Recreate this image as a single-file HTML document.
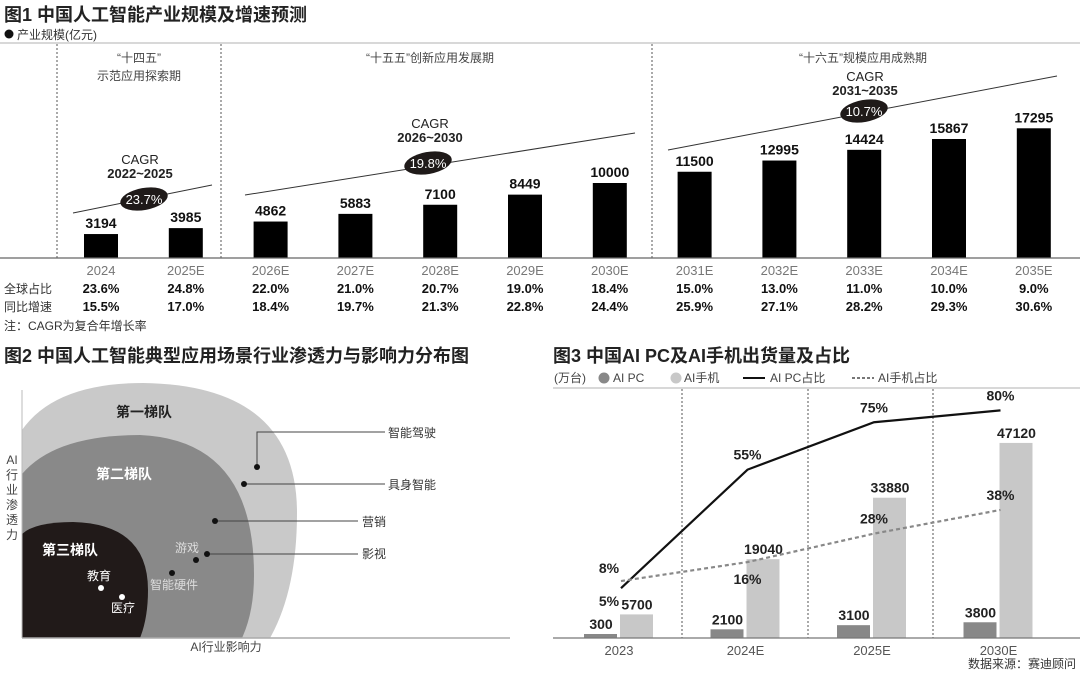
<!DOCTYPE html>
<html><head><meta charset="utf-8"><style>
html,body{margin:0;padding:0;background:#fff;}
svg{display:block;font-family:"Liberation Sans","Noto Sans CJK SC",sans-serif;}
</style></head><body>
<svg id="root" width="1080" height="678" viewBox="0 0 1080 678">
<!-- Figure 1 -->
<text x="4" y="21" font-size="18" font-weight="bold" fill="#222">图1 中国人工智能产业规模及增速预测</text>
<circle cx="9" cy="34" r="4.5" fill="#111"/>
<text x="17" y="39" font-size="12" fill="#333">产业规模(亿元)</text>
<line x1="0" y1="43" x2="1080" y2="43" stroke="#ccc" stroke-width="1.5"/>
<g stroke="#555" stroke-dasharray="2,2">
<line x1="57" y1="44" x2="57" y2="258"/><line x1="221" y1="44" x2="221" y2="258"/><line x1="652" y1="44" x2="652" y2="258"/>
</g>
<g id="f1bars"></g>
<line x1="0" y1="258" x2="1080" y2="258" stroke="#666" stroke-width="1.2"/>
<g font-size="12" fill="#444" text-anchor="middle">
<text x="139" y="62">“十四五”</text><text x="139" y="80">示范应用探索期</text>
<text x="430" y="62">“十五五”创新应用发展期</text>
<text x="863" y="62">“十六五”规模应用成熟期</text>
</g>
<g>
<line x1="73" y1="213" x2="212" y2="185" stroke="#333"/>
<line x1="245" y1="195" x2="635" y2="133" stroke="#333"/>
<line x1="668" y1="150" x2="1057" y2="76" stroke="#333"/>
<g text-anchor="middle" font-size="13" fill="#222">
<text x="140" y="164">CAGR</text><text x="140" y="178" font-weight="bold">2022~2025</text>
<text x="430" y="128">CAGR</text><text x="430" y="142" font-weight="bold">2026~2030</text>
<text x="865" y="81">CAGR</text><text x="865" y="95" font-weight="bold">2031~2035</text>
</g>
<ellipse cx="144" cy="199" rx="24" ry="11" fill="#1f1a19" transform="rotate(-10 144 199)"/>
<ellipse cx="428" cy="163" rx="24" ry="11" fill="#1f1a19" transform="rotate(-10 428 163)"/>
<ellipse cx="864" cy="111" rx="24" ry="11" fill="#1f1a19" transform="rotate(-10 864 111)"/>
<g text-anchor="middle" font-size="13" fill="#fff">
<text x="144" y="204">23.7%</text><text x="428" y="168">19.8%</text><text x="864" y="116">10.7%</text>
</g>
</g>
<g font-size="12" fill="#333">
<text x="4" y="293">全球占比</text><text x="4" y="311">同比增速</text>
<text x="4" y="330">注：CAGR为复合年增长率</text>
</g>
<g id="f1table"></g>

<!-- Figure 2 -->
<text x="4" y="362" font-size="18" font-weight="bold" fill="#222">图2 中国人工智能典型应用场景行业渗透力与影响力分布图</text>
<path d="M22,638 L22,430 Q55,383 143,383 Q297,385 297,513 Q297,590 270,638 Z" fill="#c9c9c9"/>
<path d="M22,638 L22,474 Q55,435 140,435 Q254,440 254,575 Q254,612 242,638 Z" fill="#898989"/>
<path d="M22,638 L22,534 Q35,522 73,522 Q148,524 148,590 Q148,618 140,638 Z" fill="#211a19"/>
<line x1="22" y1="390" x2="22" y2="638" stroke="#bbb"/>
<line x1="22" y1="638" x2="510" y2="638" stroke="#aaa" stroke-width="1.5"/>
<g font-size="14" font-weight="bold">
<text x="116" y="417" fill="#222">第一梯队</text>
<text x="96" y="479" fill="#fff">第二梯队</text>
<text x="42" y="555" fill="#fff">第三梯队</text>
</g>
<g stroke="#444" fill="none">
<polyline points="257,467 257,432 385,432"/>
<line x1="244" y1="484" x2="385" y2="484"/>
<line x1="215" y1="521" x2="358" y2="521"/>
<line x1="207" y1="554" x2="358" y2="554"/>
</g>
<g fill="#111">
<circle cx="257" cy="467" r="3"/><circle cx="244" cy="484" r="3"/><circle cx="215" cy="521" r="3"/>
<circle cx="207" cy="554" r="3"/><circle cx="196" cy="560" r="3"/><circle cx="172" cy="573" r="3"/>
<circle cx="101" cy="588" r="3" fill="#fff"/><circle cx="122" cy="597" r="3" fill="#fff"/>
</g>
<g font-size="12" fill="#333">
<text x="388" y="437">智能驾驶</text><text x="388" y="489">具身智能</text>
<text x="362" y="526">营销</text><text x="362" y="558">影视</text>
<text x="175" y="552" fill="#ddd">游戏</text><text x="150" y="589" fill="#ddd">智能硬件</text>
<text x="87" y="580" fill="#fff">教育</text><text x="111" y="612" fill="#fff">医疗</text>
</g>
<g font-size="12" fill="#444" text-anchor="middle">
<text x="12" y="464">AI</text><text x="12" y="479">行</text><text x="12" y="494">业</text><text x="12" y="509">渗</text><text x="12" y="524">透</text><text x="12" y="539">力</text>
</g>
<text x="226" y="651" font-size="12" fill="#444" text-anchor="middle">AI行业影响力</text>

<!-- Figure 3 -->
<text x="553" y="362" font-size="18" font-weight="bold" fill="#222">图3 中国AI PC及AI手机出货量及占比</text>
<g font-size="12" fill="#444">
<text x="554" y="382">(万台)</text>
<circle cx="604" cy="378" r="5.5" fill="#888"/><text x="613" y="382">AI PC</text>
<circle cx="676" cy="378" r="5.5" fill="#c8c8c8"/><text x="684" y="382">AI手机</text>
<line x1="743" y1="378" x2="765" y2="378" stroke="#111" stroke-width="2"/><text x="770" y="382">AI PC占比</text>
<line x1="852" y1="378" x2="874" y2="378" stroke="#777" stroke-width="2" stroke-dasharray="3,2"/><text x="878" y="382">AI手机占比</text>
</g>
<line x1="553" y1="388" x2="1080" y2="388" stroke="#ccc" stroke-width="1.5"/>
<g stroke="#555" stroke-dasharray="2,2">
<line x1="682" y1="389" x2="682" y2="638"/><line x1="808" y1="389" x2="808" y2="638"/><line x1="933" y1="389" x2="933" y2="638"/>
</g>
<g id="f3"></g>
<line x1="553" y1="638" x2="1080" y2="638" stroke="#777" stroke-width="1.2"/>
<text x="1076" y="668" font-size="12" fill="#333" text-anchor="end">数据来源：赛迪顾问</text>
</svg>
<script>
const NS="http://www.w3.org/2000/svg";
// Figure 1 data
const f1Years=["2024","2025E","2026E","2027E","2028E","2029E","2030E","2031E","2032E","2033E","2034E","2035E"];
const f1Scale=[3194,3985,4862,5883,7100,8449,10000,11500,12995,14424,15867,17295];
const f1Global=["23.6%","24.8%","22.0%","21.0%","20.7%","19.0%","18.4%","15.0%","13.0%","11.0%","10.0%","9.0%"];
const f1Growth=["15.5%","17.0%","18.4%","19.7%","21.3%","22.8%","24.4%","25.9%","27.1%","28.2%","29.3%","30.6%"];
// Figure 3 data
const f3Cats=["2023","2024E","2025E","2030E"];
const f3PC=[300,2100,3100,3800];
const f3Phone=[5700,19040,33880,47120];
const f3PCShare=[5,55,75,80];
const f3PhoneShare=[8,16,28,38];

function mk(tag,attrs,parent,txt){const e=document.createElementNS(NS,tag);for(const k in attrs)e.setAttribute(k,attrs[k]);if(txt!==undefined)e.textContent=txt;parent.appendChild(e);return e;}
const f1x=i=>101+i*84.8;
const f1y=v=>258-v*0.0075;
const gb=document.getElementById('f1bars'),gt=document.getElementById('f1table');
f1Scale.forEach((v,i)=>{
  const r=mk('rect',{x:f1x(i)-17,y:f1y(v),width:34,height:258-f1y(v),fill:'#000'},gb);
  
  
  const t=mk('text',{x:f1x(i),y:f1y(v)-6,'font-size':14,'font-weight':'bold','text-anchor':'middle',fill:'#111'},gb,String(v));
  
  
  const a=mk('text',{x:f1x(i),y:275,'font-size':13,'text-anchor':'middle',fill:'#777'},gt,f1Years[i]);
  
  
  const b=mk('text',{x:f1x(i),y:293,'font-size':13,'font-weight':'bold','text-anchor':'middle',fill:'#111'},gt,f1Global[i]);
  
  
  const c=mk('text',{x:f1x(i),y:311,'font-size':13,'font-weight':'bold','text-anchor':'middle',fill:'#111'},gt,f1Growth[i]);
  
  
});
const g3=document.getElementById('f3');
const f3x=i=>619+i*126.5;
const f3y=v=>638-v*0.00414;
const f3s=p=>600-p*2.37;
f3Cats.forEach((c,i)=>{
  const h1=Math.max(638-f3y(f3PC[i]),4);
  const r1=mk('rect',{x:f3x(i)-35,y:638-h1,width:33,height:h1,fill:'#888'},g3);
  
  
  const r2=mk('rect',{x:f3x(i)+1,y:f3y(f3Phone[i]),width:33,height:638-f3y(f3Phone[i]),fill:'#c8c8c8'},g3);
  
  
  const t1=mk('text',{x:f3x(i)-18,y:638-h1-5,'font-size':14,'font-weight':'bold','text-anchor':'middle',fill:'#222'},g3,String(f3PC[i]));
  
  
  const t2=mk('text',{x:f3x(i)+18,y:f3y(f3Phone[i])-5,'font-size':14,'font-weight':'bold','text-anchor':'middle',fill:'#222'},g3,String(f3Phone[i]));
  
  
  const xl=mk('text',{x:f3x(i),y:655,'font-size':13,'text-anchor':'middle',fill:'#555'},g3,c);
  
  
});
const lx=i=>f3x(i)+2;
const pl=mk('polyline',{points:f3PCShare.map((p,i)=>lx(i)+','+f3s(p)).join(' '),fill:'none',stroke:'#111','stroke-width':2.2},g3);


const pl2=mk('polyline',{points:f3PhoneShare.map((p,i)=>lx(i)+','+f3s(p)).join(' '),fill:'none',stroke:'#888','stroke-width':2.2,'stroke-dasharray':'4,3'},g3);


f3PCShare.forEach((p,i)=>{
  const dx=i===0?-12:0, dy=i===0?18:-10;
  const t=mk('text',{x:lx(i)+dx,y:f3s(p)+dy,'font-size':14,'font-weight':'bold','text-anchor':'middle',fill:'#222'},g3,p+'%');
  
  
});
f3PhoneShare.forEach((p,i)=>{
  const dx=i===0?-12:0, dy=i===1?22:(i===0?-8:-10);
  const t=mk('text',{x:lx(i)+dx,y:f3s(p)+dy,'font-size':14,'font-weight':'bold','text-anchor':'middle',fill:'#222'},g3,p+'%');
  
  
});
</script>
</body></html>
